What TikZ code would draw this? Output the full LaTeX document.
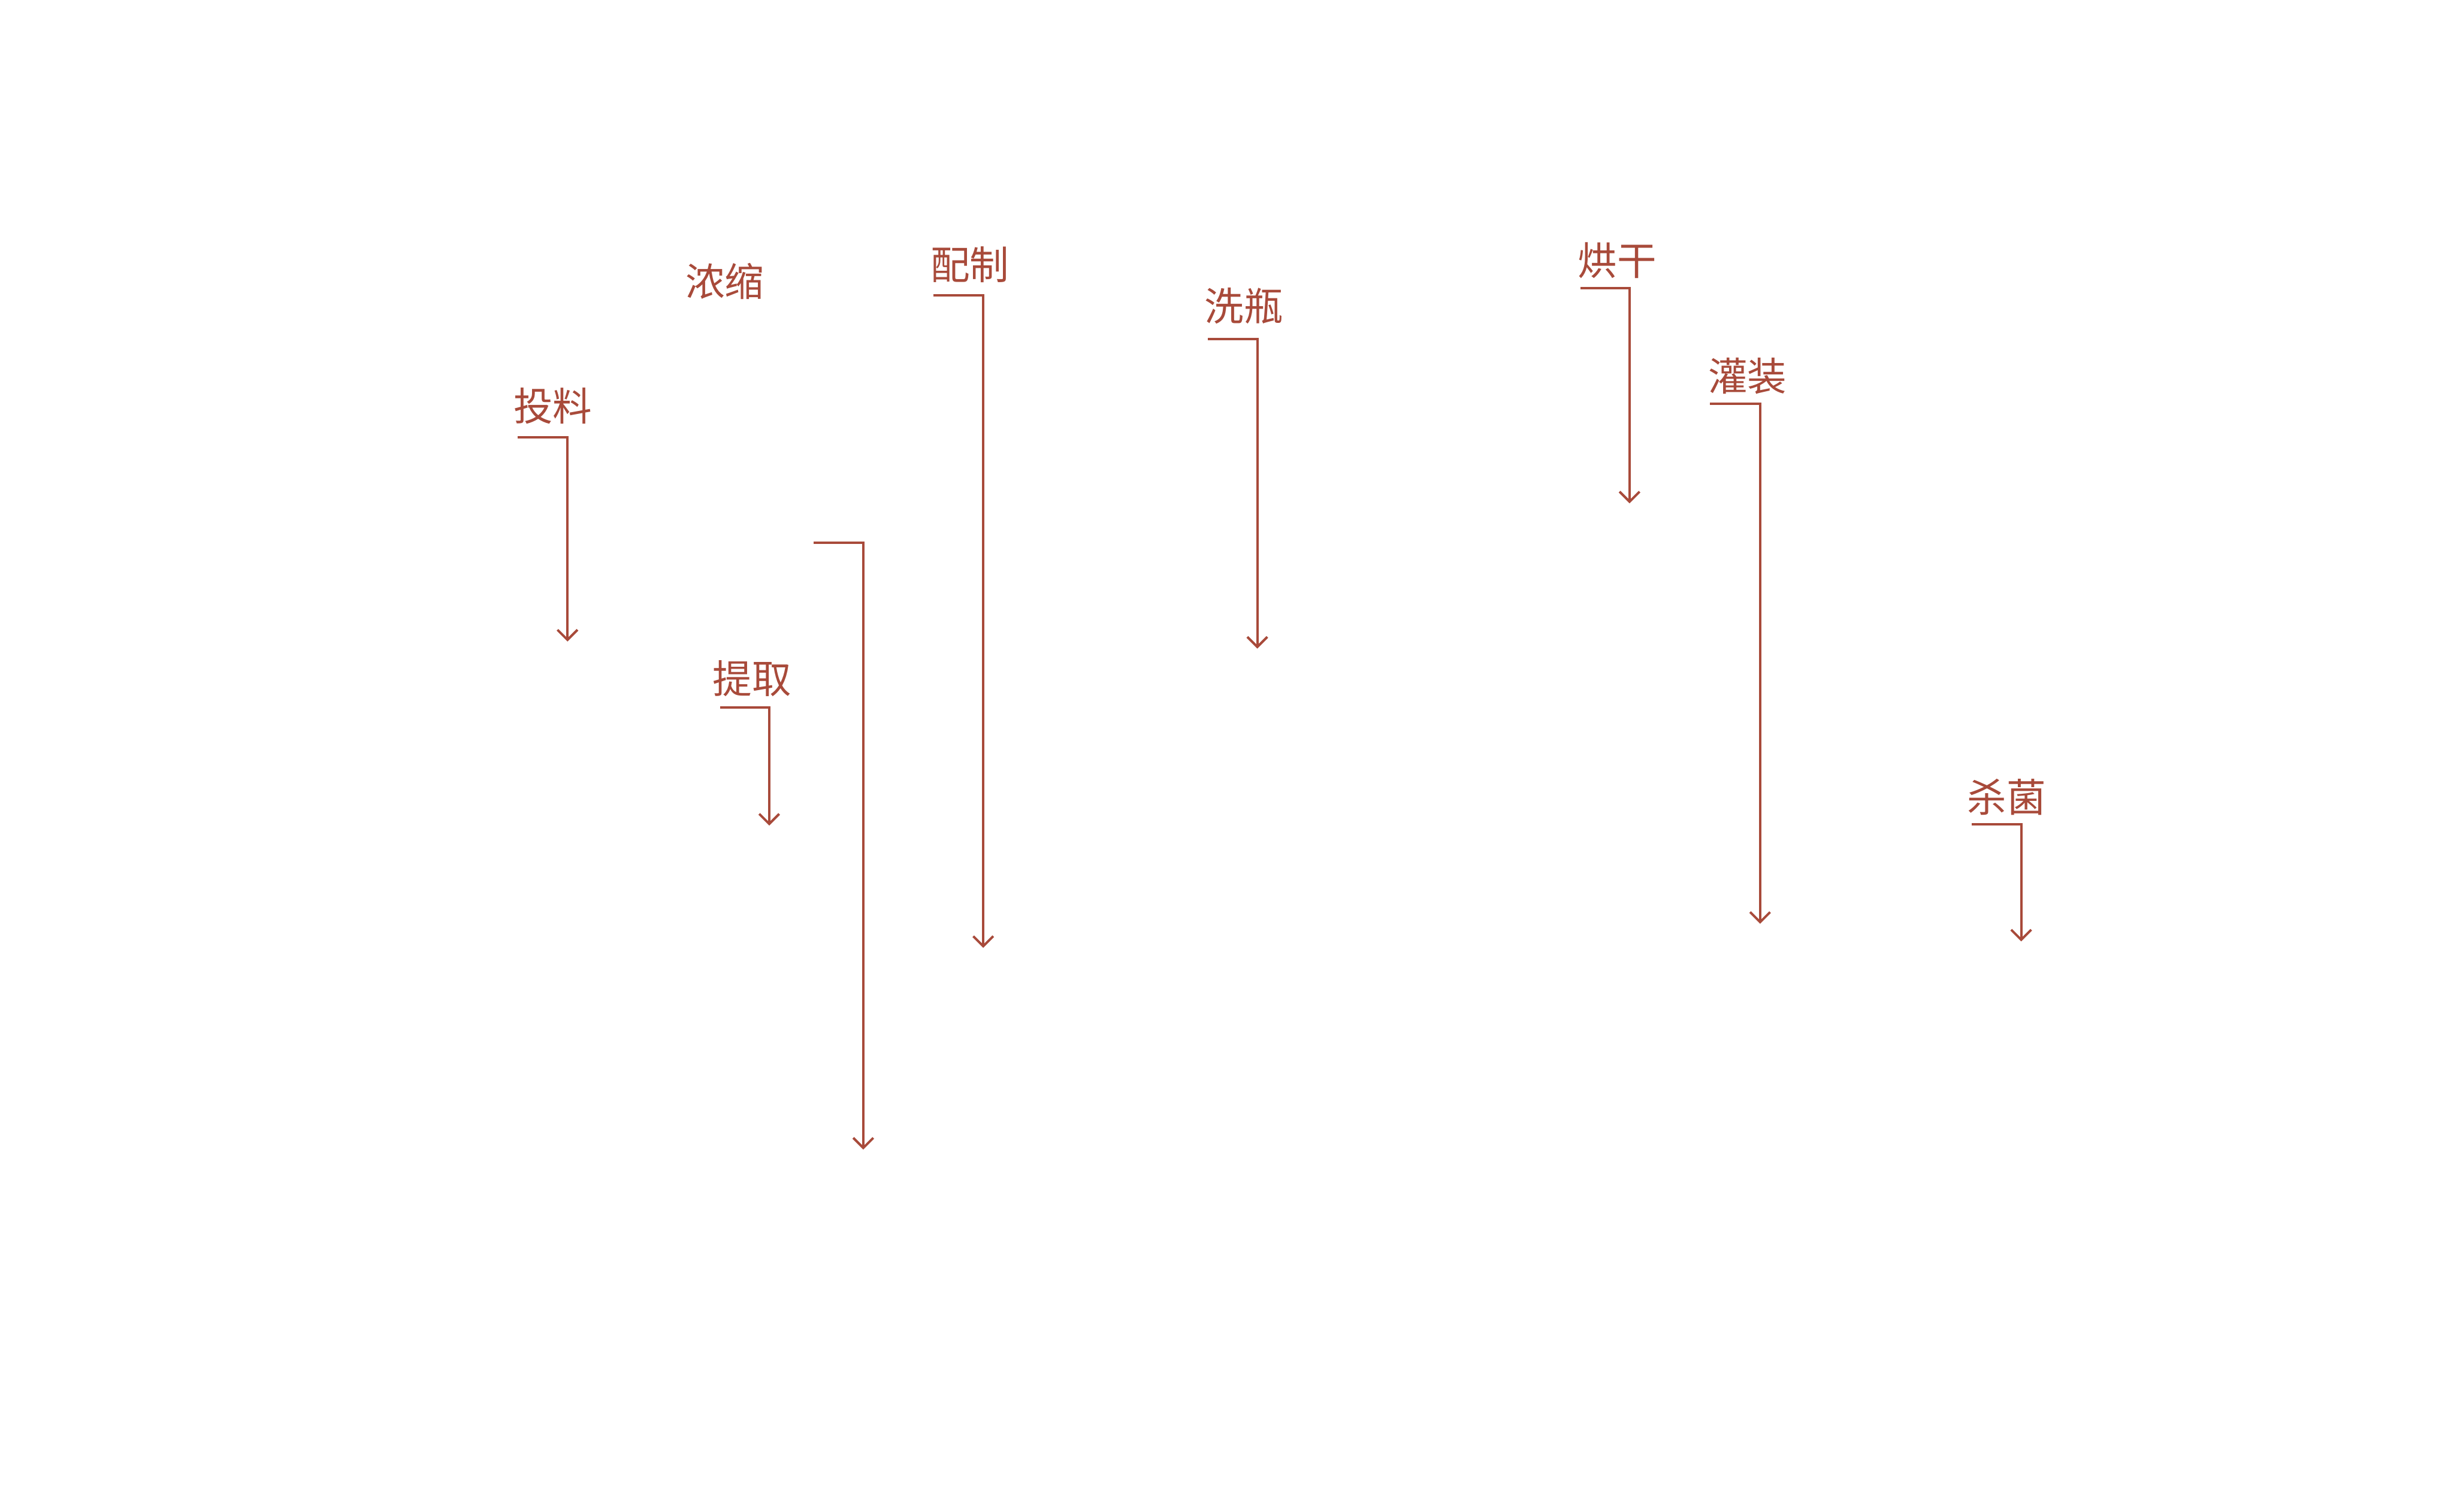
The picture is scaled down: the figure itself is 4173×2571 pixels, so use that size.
\documentclass[tikz,border=0pt]{standalone}
\usepackage{fontspec}
\newfontfamily\cjk{Noto Sans CJK SC}
\usetikzlibrary{arrows.meta}
\definecolor{rust}{RGB}{168,74,58}
\tikzset{
  lbl/.style={inner sep=0pt, outer sep=0pt, text=rust, font=\cjk\fontsize{19pt}{22pt}\selectfont},
  flow/.style={draw=rust, line width=1.15pt, line join=miter, -{Straight Barb[length=1.7mm,width=3.4mm,line width=1.15pt]}}
}
\begin{document}
\begin{tikzpicture}[x=0.01cm,y=-0.01cm]
\useasboundingbox (0,0) rectangle (4173,2571);
% labels
\node[lbl] (tl) at (940,690.5) {投料};
\node[lbl] (ns) at (1232.5,478.5) {浓缩};
\node[lbl] (pz) at (1649,449.5) {配制};
\node[lbl] (tq) at (1279,1153.5) {提取};
\node[lbl] (xp) at (2115.5,520.5) {洗瓶};
\node[lbl] (hg) at (2750,443) {烘干};
\node[lbl] (gz) at (2971.5,639) {灌装};
\node[lbl] (sj) at (3412.5,1355.5) {杀菌};
% bracket start points and ends
\coordinate (tlA) at (880,744);   \coordinate (tlB) at (965,1091);
\coordinate (pzA) at (1587,502);  \coordinate (pzB) at (1672,1612);
\coordinate (unA) at (1384,923);  \coordinate (unB) at (1468,1955);
\coordinate (tqA) at (1225,1203); \coordinate (tqB) at (1308,1404);
\coordinate (xpA) at (2054,577);  \coordinate (xpB) at (2138,1103);
\coordinate (hgA) at (2688,490);  \coordinate (hgB) at (2771,856);
\coordinate (gzA) at (2908,687);  \coordinate (gzB) at (2993,1571);
\coordinate (sjA) at (3353,1402); \coordinate (sjB) at (3437,1601);
% connectors
\foreach \n in {tl,pz,un,tq,xp,hg,gz,sj}{
  \draw[flow] (\n A) -| (\n B);
}
\end{tikzpicture}
\end{document}
